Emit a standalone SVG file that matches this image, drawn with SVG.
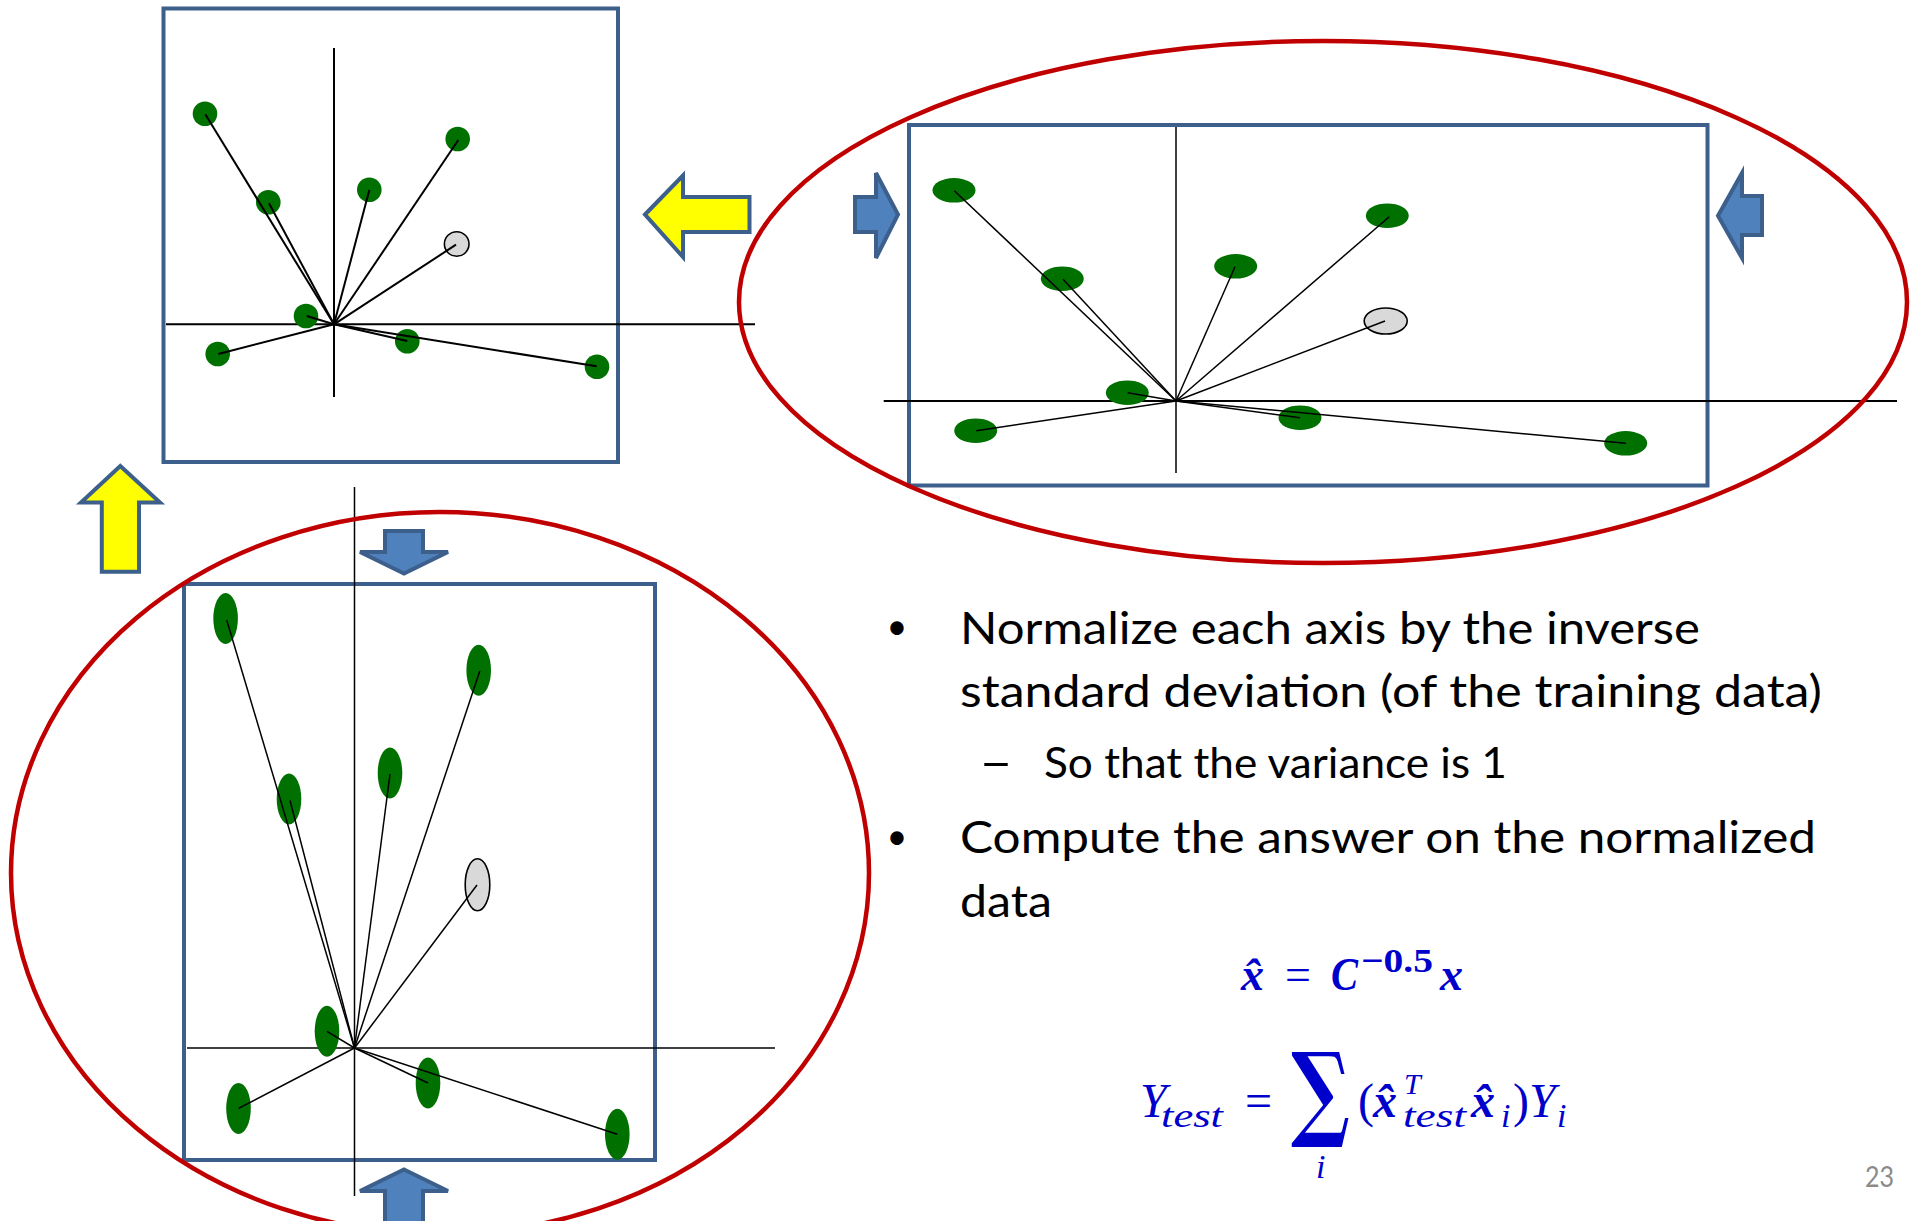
<svg xmlns="http://www.w3.org/2000/svg" width="1915" height="1221" viewBox="0 0 1915 1221">
<style>
.box{fill:none;stroke:#3C5F8C;stroke-width:4}
.red{fill:none;stroke:#C00000;stroke-width:4.5}
.ax{stroke:#000;stroke-width:2}
.ax2{stroke:#000;stroke-width:1.5}
.vec{stroke:#000;stroke-width:2}
.vec2{stroke:#000;stroke-width:1.5}
.g{fill:#007000}
.q{fill:#D9D9D9;stroke:#000;stroke-width:1.6}
.ya{fill:#FFFF00;stroke:#3C5F8C;stroke-width:4;stroke-linejoin:miter}
.ba{fill:#4F81BD;stroke:#3C5F8C;stroke-width:4;stroke-linejoin:miter}
.t{font-family:Lato,"Open Sans","Liberation Sans",sans-serif;fill:#000}
.m{font-family:"Liberation Serif","DejaVu Serif",serif;fill:#0000CC;font-style:italic}
.n{font-style:normal}
.b{font-weight:bold}
</style>

<!-- Top-left panel -->
<g id="panel-top-left">
  <rect class="box" x="163.5" y="8.5" width="454.5" height="453.5"/>
  <line class="ax" x1="334" y1="48" x2="334" y2="397"/>
  <line class="ax" x1="166" y1="324.3" x2="755" y2="324.3"/>
  <g id="tl-points">
    <circle class="g" cx="205" cy="113.7" r="12.3"/>
    <circle class="g" cx="268.3" cy="202.3" r="12.3"/>
    <circle class="g" cx="369.3" cy="189.7" r="12.3"/>
    <circle class="g" cx="457.7" cy="139" r="12.3"/>
    <circle class="q" cx="456.7" cy="244" r="12.3"/>
    <circle class="g" cx="306" cy="316" r="12.3"/>
    <circle class="g" cx="217.7" cy="354" r="12.3"/>
    <circle class="g" cx="407.3" cy="341.3" r="12.3"/>
    <circle class="g" cx="597" cy="366.7" r="12.3"/>
  </g>
  <g id="tl-vectors">
    <line class="vec" x1="334" y1="324.3" x2="205.3" y2="114.3"/>
    <line class="vec" x1="334" y1="324.3" x2="269" y2="203.3"/>
    <line class="vec" x1="334" y1="324.3" x2="369.3" y2="190"/>
    <line class="vec" x1="334" y1="324.3" x2="458.3" y2="140"/>
    <line class="vec" x1="334" y1="324.3" x2="456" y2="244.7"/>
    <line class="vec" x1="334" y1="324.3" x2="306.7" y2="316"/>
    <line class="vec" x1="334" y1="324.3" x2="218.3" y2="354"/>
    <line class="vec" x1="334" y1="324.3" x2="407.3" y2="341"/>
    <line class="vec" x1="334" y1="324.3" x2="596.7" y2="366.3"/>
  </g>
</g>

<!-- Top-right panel -->
<g id="panel-top-right">
  <rect class="box" x="909" y="125" width="798.5" height="360.5"/>
  <line class="ax2" x1="1176" y1="127" x2="1176" y2="473"/>
  <line class="ax" x1="883.7" y1="401" x2="1897" y2="401"/>
  <g id="tr-points">
    <ellipse class="g" cx="954" cy="190.3" rx="21.5" ry="12.3"/>
    <ellipse class="g" cx="1062.3" cy="278.7" rx="21.5" ry="12.3"/>
    <ellipse class="g" cx="1235.7" cy="266.3" rx="21.5" ry="12.3"/>
    <ellipse class="g" cx="1387.3" cy="215.7" rx="21.5" ry="12.3"/>
    <ellipse class="q" cx="1385.7" cy="321" rx="21.5" ry="13"/>
    <ellipse class="g" cx="1127.3" cy="392.7" rx="21.5" ry="12.3"/>
    <ellipse class="g" cx="975.7" cy="430.7" rx="21.5" ry="12.3"/>
    <ellipse class="g" cx="1300" cy="417.7" rx="21.5" ry="12.3"/>
    <ellipse class="g" cx="1625.7" cy="443.3" rx="21.5" ry="12.3"/>
  </g>
  <g id="tr-vectors">
    <line class="vec2" x1="1176" y1="401" x2="954.3" y2="190.7"/>
    <line class="vec2" x1="1176" y1="401" x2="1063" y2="279.3"/>
    <line class="vec2" x1="1176" y1="401" x2="1235" y2="266.7"/>
    <line class="vec2" x1="1176" y1="401" x2="1389.3" y2="216.7"/>
    <line class="vec2" x1="1176" y1="401" x2="1385" y2="321"/>
    <line class="vec2" x1="1176" y1="401" x2="1127.7" y2="392.7"/>
    <line class="vec2" x1="1176" y1="401" x2="976.3" y2="430.7"/>
    <line class="vec2" x1="1176" y1="401" x2="1300" y2="417.7"/>
    <line class="vec2" x1="1176" y1="401" x2="1625.7" y2="443.3"/>
  </g>
</g>

<!-- Bottom-left panel -->
<g id="panel-bottom-left">
  <rect class="box" x="184" y="584" width="471" height="576"/>
  <line class="ax2" x1="354.5" y1="487" x2="354.5" y2="1196"/>
  <line class="ax2" x1="187" y1="1048" x2="775" y2="1048"/>
  <g id="bl-points">
    <ellipse class="g" cx="225.6" cy="618.5" rx="12.3" ry="25.5"/>
    <ellipse class="g" cx="289" cy="799" rx="12.3" ry="25.5"/>
    <ellipse class="g" cx="390" cy="773" rx="12.3" ry="25.5"/>
    <ellipse class="g" cx="478.7" cy="670.2" rx="12.3" ry="25.5"/>
    <ellipse class="q" cx="477.5" cy="884.8" rx="12.3" ry="26"/>
    <ellipse class="g" cx="327" cy="1031.3" rx="12.3" ry="25.5"/>
    <ellipse class="g" cx="238.5" cy="1108.4" rx="12.3" ry="25.5"/>
    <ellipse class="g" cx="428" cy="1083" rx="12.3" ry="25.5"/>
    <ellipse class="g" cx="617.3" cy="1134.3" rx="12.3" ry="25.5"/>
  </g>
  <g id="bl-vectors">
    <line class="vec2" x1="354.5" y1="1048" x2="226.7" y2="620"/>
    <line class="vec2" x1="354.5" y1="1048" x2="290" y2="800.5"/>
    <line class="vec2" x1="354.5" y1="1048" x2="390" y2="774"/>
    <line class="vec2" x1="354.5" y1="1048" x2="479.8" y2="671"/>
    <line class="vec2" x1="354.5" y1="1048" x2="477" y2="885"/>
    <line class="vec2" x1="354.5" y1="1048" x2="327" y2="1031.3"/>
    <line class="vec2" x1="354.5" y1="1048" x2="238.5" y2="1108.4"/>
    <line class="vec2" x1="354.5" y1="1048" x2="428" y2="1083"/>
    <line class="vec2" x1="354.5" y1="1048" x2="617.3" y2="1134.3"/>
  </g>
</g>

<!-- Red ellipses -->
<g id="ellipse-top-right"><ellipse class="red" cx="1323" cy="302" rx="584" ry="261"/></g>
<g id="ellipse-bottom-left"><ellipse class="red" cx="440" cy="873" rx="429" ry="361"/></g>

<!-- Block arrows -->
<g id="arrows">
  <polygon id="yellow-left" class="ya" points="645,214.5 683,175.5 683,197 749.5,197 749.5,232 683,232 683,257"/>
  <polygon id="yellow-up" class="ya" points="120.3,466 160,502.5 139,502.5 139,571.7 101.8,571.7 101.8,502.5 81,502.5"/>
  <polygon id="blue-right" class="ba" points="855,197 876,197 876,173 898,214.5 876,258 876,232 855,232"/>
  <polygon id="blue-left" class="ba" points="1762,196 1742,196 1742,173 1718,215.7 1742,258 1742,235 1762,235"/>
  <polygon id="blue-down" class="ba" points="385,531 423,531 423,552 448,552 404,573.5 360,552 385,552"/>
  <polygon id="blue-up" class="ba" points="404,1169.5 448,1191 423,1191 423,1230 385,1230 385,1191 360,1191"/>
</g>

<!-- Bullet text -->
<g id="text">
  <text class="t" x="897" y="639" font-size="36" text-anchor="middle">•</text>
  <text class="t" x="960" y="644" font-size="45" textLength="740" lengthAdjust="spacingAndGlyphs">Normalize each axis by the inverse</text>
  <text class="t" x="960" y="707" font-size="45" textLength="862" lengthAdjust="spacingAndGlyphs">standard deviation (of the training data)</text>
  <text class="t" x="979" y="778" font-size="46" textLength="34" lengthAdjust="spacingAndGlyphs">–</text>
  <text class="t" x="1044" y="778" font-size="43" textLength="463" lengthAdjust="spacingAndGlyphs">So that the variance is 1</text>
  <text class="t" x="897" y="849" font-size="36" text-anchor="middle">•</text>
  <text class="t" x="960" y="853" font-size="45" textLength="856" lengthAdjust="spacingAndGlyphs">Compute the answer on the normalized</text>
  <text class="t" x="960" y="917" font-size="45" textLength="92" lengthAdjust="spacingAndGlyphs">data</text>
</g>

<!-- Formulas -->
<g id="formula-1">
  <text class="m b" font-size="46"><tspan x="1241" y="990">x̂</tspan><tspan class="n" x="1285" y="990" font-weight="normal">=</tspan><tspan x="1331" y="990" textLength="27" lengthAdjust="spacingAndGlyphs">C</tspan><tspan class="n" x="1361" y="972" font-size="34" textLength="72" lengthAdjust="spacingAndGlyphs">−0.5</tspan><tspan x="1440" y="990">x</tspan></text>
</g>
<g id="formula-2">
  <text class="m" font-size="48"><tspan x="1140" y="1117">Y</tspan><tspan x="1161" y="1127" font-size="34" textLength="62" lengthAdjust="spacingAndGlyphs">test</tspan><tspan class="n" x="1245" y="1117">=</tspan><tspan class="n b" x="1291" y="1127" font-size="104" style="font-family:'DejaVu Serif',serif" textLength="59" lengthAdjust="spacingAndGlyphs">∑</tspan><tspan x="1316" y="1178" font-size="34">i</tspan><tspan class="n" x="1358" y="1117">(</tspan><tspan class="b" x="1373" y="1117">x̂</tspan><tspan x="1404" y="1094" font-size="30">T</tspan><tspan x="1403" y="1127" font-size="34" textLength="63" lengthAdjust="spacingAndGlyphs">test</tspan><tspan class="b" x="1471" y="1117">x̂</tspan><tspan x="1501" y="1127" font-size="34">i</tspan><tspan class="n" x="1513" y="1117">)</tspan><tspan x="1529" y="1117">Y</tspan><tspan x="1557" y="1127" font-size="34">i</tspan></text>
</g>

<g id="page-number">
  <text x="1865" y="1187" font-family="Lato,'Open Sans',sans-serif" font-size="29" fill="#8A8A8A" textLength="29" lengthAdjust="spacingAndGlyphs">23</text>
</g>
</svg>
